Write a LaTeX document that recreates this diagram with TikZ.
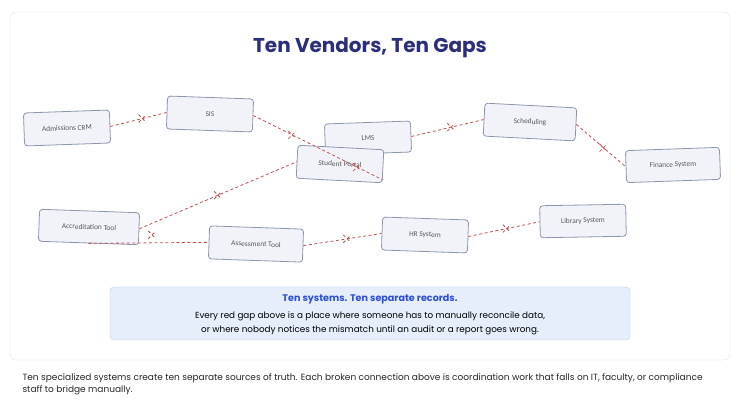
\documentclass[tikz,border=0pt]{standalone}
\usepackage{fontspec}
\setmainfont{Poppins}
\newfontfamily\boxfont{Carlito}
\usetikzlibrary{shapes.misc}
\definecolor{boxfill}{HTML}{F1F3F8}
\definecolor{boxline}{HTML}{8C97AD}
\definecolor{gapred}{HTML}{C0504D}
\definecolor{titlenavy}{HTML}{2B2F7A}
\definecolor{noteblue}{HTML}{2B4FD8}
\definecolor{notefill}{HTML}{E6EEFC}
\definecolor{noteline}{HTML}{B8CDF0}
\tikzset{
  sys/.style={draw=boxline, fill=boxfill, rounded corners=3pt, thick, minimum width=86pt,
    minimum height=33pt, font=\boxfont\fontsize{7.4}{8}\selectfont, text=black!65},
  gap/.style={gapred, thick, dash pattern=on 3pt off 2.5pt},
  xmark/.style={cross out, draw=gapred, thick, minimum size=7pt, inner sep=0pt}
}
\begin{document}
\begin{tikzpicture}[x=1pt,y=-1pt]
        \useasboundingbox (0,0) rectangle (740,406);
        % Draw frame
        \draw[black!12, rounded corners=6pt] (10,12) rectangle (730,360);
        \node[font=\bfseries\fontsize{20}{22}\selectfont, text=titlenavy] (title) at (370,48) {Ten Vendors, Ten Gaps};

        % Draw systems
        \node[sys, rotate=2] (crm) at (67,128) {Admissions CRM};
        \node[sys, rotate=-2] (sis) at (210,114) {SIS};
        \node[sys, rotate=2, minimum height=31pt] (lms) at (368,138) {LMS};
        \node[sys, rotate=-3] (portal) at (340,164) {Student Portal};
        \node[sys, rotate=-3, minimum width=92pt] (sched) at (530,122) {Scheduling};
        \node[sys, rotate=2, minimum width=94pt, minimum height=32pt] (finance) at (673,165) {Finance System};
        \node[sys, rotate=-2, minimum width=100pt, minimum height=32pt] (accr) at (89,227) {Accreditation Tool};
        \node[sys, rotate=-2, minimum width=94pt] (assess) at (256,244) {Assessment Tool};
        \node[sys, rotate=-2] (hr) at (425,235) {HR System};
        \node[sys, rotate=1, minimum height=32pt] (library) at (583,221) {Library System};
        \coordinate (portalend) at (383,180);

        % Draw gaps
        \draw[gap] (crm.east) -- node[xmark, pos=0.57] {} (sis.west);
        \draw[gap] (sis.east) -- node[xmark, pos=0.3] {} node[xmark, pos=0.8] {} (portalend);
        \draw[gap] (lms.east) -- node[xmark, pos=0.55] {} (sched.west);
        \draw[gap] (sched.east) -- node[xmark, pos=0.55] {} (finance.west);
        \draw[gap] (accr.east) -- node[xmark, pos=0.5] {} (portal.west);
        \draw[gap] (accr.south) -- node[xmark, pos=0.53, yshift=8pt] {} (assess.west);
        \draw[gap] (assess.east) -- node[xmark, pos=0.56] {} (hr.west);
        \draw[gap] (hr.east) -- node[xmark, pos=0.54] {} (library.west);

        % Draw note
        \draw[noteline, fill=notefill, rounded corners=4pt] (110,287) rectangle (630,340);
        \node[font=\bfseries\fontsize{9.6}{11}\selectfont, text=noteblue] (notetitle) at (370,299) {Ten systems. Ten separate records.};
        \node[font=\fontsize{8.8}{14}\selectfont, align=center] (notebody) at (370,323)
          {Every red gap above is a place where someone has to manually reconcile data,\\or where nobody notices the mismatch until an audit or a report goes wrong.};

        % Draw caption
        \node[font=\fontsize{9}{12.5}\selectfont, align=left, anchor=north west, text=black!85] (caption) at (19,370)
          {Ten specialized systems create ten separate sources of truth. Each broken connection above is coordination work that falls on IT, faculty, or compliance\\staff to bridge manually.};
\end{tikzpicture}
\end{document}
